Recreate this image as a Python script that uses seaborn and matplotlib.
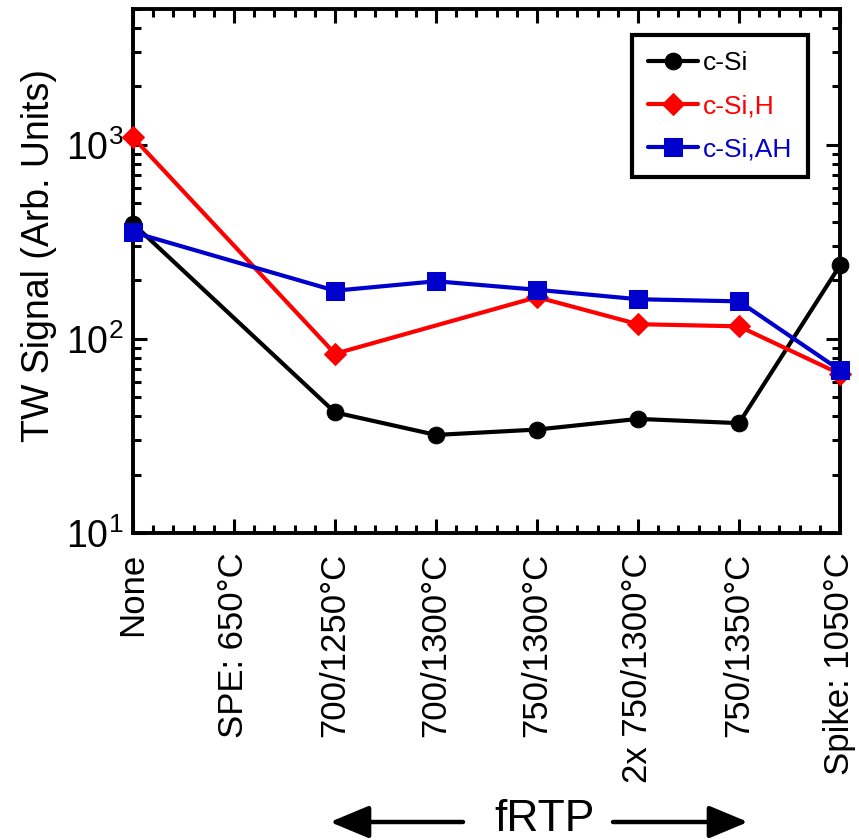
import numpy as np
import pandas as pd
import seaborn as sns
import matplotlib
matplotlib.use("Agg")
import matplotlib.pyplot as plt
from matplotlib.ticker import FixedLocator, MultipleLocator, LogLocator, NullFormatter

# === data ===
categories = ["None", "SPE: 650°C", "700/1250°C", "700/1300°C", "750/1300°C",
              "2x 750/1300°C", "750/1350°C", "Spike: 1050°C"]
c_si = [392, np.nan, 41.8, 32.0, 34.1, 38.7, 36.8, 239]
c_si_h = [1090, np.nan, 83.8, np.nan, 164, 119, 116, 66]
c_si_ah = [354, np.nan, 177, 198, 179, 160, 156, 69]

series = {"c-Si": c_si, "c-Si,H": c_si_h, "c-Si,AH": c_si_ah}
colors = {"c-Si": "black", "c-Si,H": "#ff0000", "c-Si,AH": "#0000cc"}
markers = {"c-Si": "o", "c-Si,H": "D", "c-Si,AH": "s"}
msizes = {"c-Si": 12, "c-Si,H": 11, "c-Si,AH": 12.5}

rows = []
for name, vals in series.items():
    for i, v in enumerate(vals):
        rows.append({"pos": i, "signal": v, "sample": name})
df = pd.DataFrame(rows).dropna()

sns.set_style("ticks")
plt.rcParams["font.family"] = ["Liberation Sans", "DejaVu Sans"]
for k in ["text.color", "axes.labelcolor", "xtick.color", "ytick.color", "axes.edgecolor"]:
    plt.rcParams[k] = "black"

fig = plt.figure(figsize=(8.59, 8.40), dpi=100)
ax = fig.add_axes([133 / 859, 1 - 533 / 840, (840 - 133) / 859, (533 - 9) / 840])

for name in series:
    sub = df[df["sample"] == name]
    sns.lineplot(data=sub, x="pos", y="signal", ax=ax, color=colors[name],
                 marker=markers[name], markersize=msizes[name], linewidth=3,
                 markeredgecolor=colors[name], label=name, sort=True,
                 clip_on=False, zorder=3)

ax.set_yscale("log")
ax.set_ylim(10, 5000)
ax.set_xlim(0, 7)

ax.xaxis.set_major_locator(FixedLocator(range(len(categories))))
ax.xaxis.set_minor_locator(MultipleLocator(0.2))
ax.set_xticklabels(categories, rotation=90, va="top", ha="center")
ax.yaxis.set_major_locator(LogLocator(base=10, numticks=10))
ax.yaxis.set_minor_locator(LogLocator(base=10, subs=np.arange(2, 10), numticks=20))
ax.yaxis.set_minor_formatter(NullFormatter())

ax.tick_params(axis="both", which="major", direction="in", length=10, width=2.2,
               top=True, right=True, labelsize=25)
ax.tick_params(axis="y", which="major", labelsize=27)
ax.tick_params(axis="both", which="minor", direction="in", length=6, width=2.2,
               top=True, right=True)
ax.tick_params(axis="x", which="major", pad=14)
ax.tick_params(axis="y", which="major", pad=7)
for s in ax.spines.values():
    s.set_linewidth(2.8)

ax.set_xlabel("")
ax.set_ylabel("TW Signal (Arb. Units)", fontsize=27)
ax.yaxis.set_label_coords(-0.108, 0.529)

leg = ax.legend(loc="upper right", bbox_to_anchor=(0.955, 0.95), borderaxespad=0,
                fontsize=19, frameon=True, fancybox=False, edgecolor="black",
                handlelength=1.9, handletextpad=0.2, labelspacing=0.72,
                borderpad=0.6)
leg.get_frame().set_linewidth(3)
leg.get_frame().set_alpha(1)
for txt, name in zip(leg.get_texts(), series):
    txt.set_color(colors[name])

# fRTP arrows under the axis
fig.text(545 / 859, 0, "fRTP", fontsize=32, ha="center", va="bottom")
arrow = dict(arrowstyle="-|>,head_length=1.2,head_width=0.5", lw=3.2, color="black",
             shrinkA=0, shrinkB=0, mutation_scale=20)
ax.annotate("", xy=(330, 18), xytext=(463, 18), xycoords="figure pixels",
            textcoords="figure pixels", arrowprops=arrow, annotation_clip=False)
ax.annotate("", xy=(748, 18), xytext=(613, 18), xycoords="figure pixels",
            textcoords="figure pixels", arrowprops=arrow, annotation_clip=False)

fig.savefig("out.png", dpi=100)
